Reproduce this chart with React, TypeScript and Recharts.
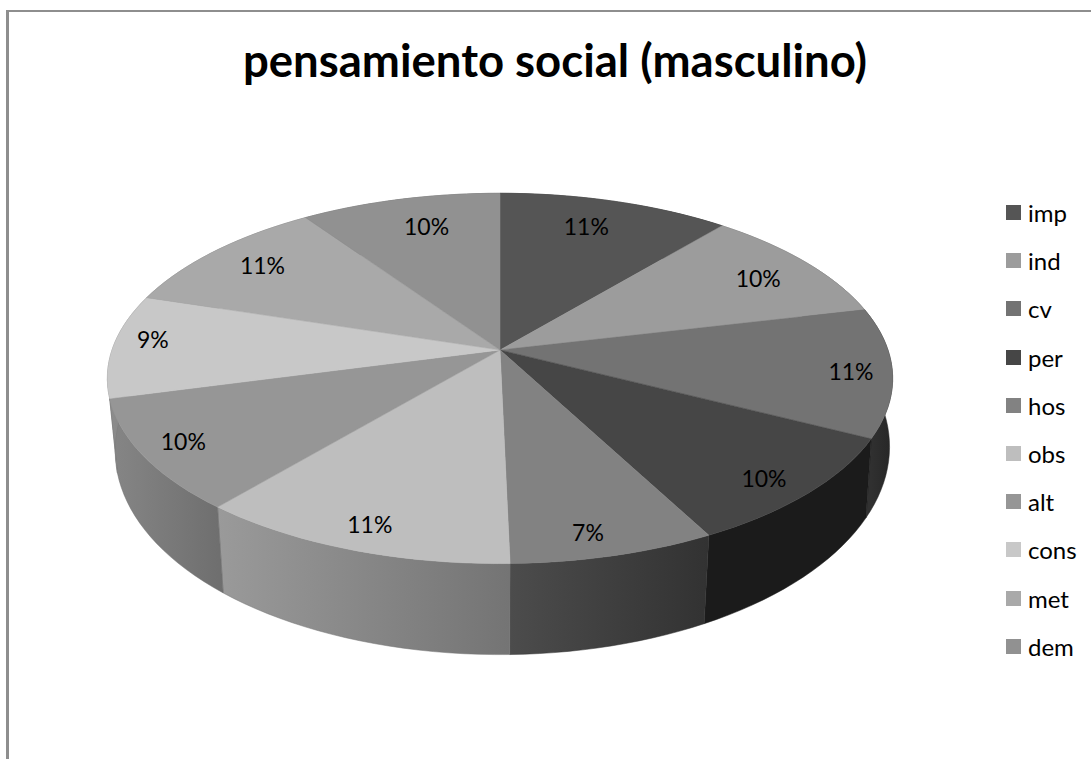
import { Legend, Pie, PieChart } from "recharts";

const names = ["imp", "ind", "cv", "per", "hos", "obs", "alt", "cons", "met", "dem"];
const values = [11.05, 10.25, 11.25, 9.75, 7.35, 11.45, 9.75, 9.05, 10.55, 9.55];
const topColors = ["#555555", "#9c9c9c", "#737373", "#464646", "#828282", "#bebebe", "#969696", "#c8c8c8", "#a9a9a9", "#919191"];
const wallLeft = ["#3a3a3a", "#707070", "#333333", "#1b1b1b", "#4c4c4c", "#9a9a9a", "#868686", "#8e8e8e", "#808080", "#707070"];
const wallRight = ["#2a2a2a", "#505050", "#262626", "#1b1b1b", "#323232", "#747474", "#6e6e6e", "#7a7a7a", "#6c6c6c", "#5c5c5c"];

// hand nudges from the projected slice midpoint, the way the original places its labels
const labelNudge = [
  [-3, -9], [25, -5], [58, 4], [39, 24], [6, 34],
  [-22, 30], [-55, 13], [-57, -8], [-19, -9], [4, -7],
];

const table = names.map((name, i) => ({ name, value: values[i], fill: topColors[i] }));

const RAD = Math.PI / 180;
const TILT = 0.466; // vertical squash of the disc
const PERSP = 0.1536; // front of the disc is nearer than the back
const FONT = "Lato, Carlito, sans-serif";

function project(cx: number, cy: number, radius: number, angle: number, frac = 1) {
  const u = Math.cos(angle * RAD) * frac;
  const v = -Math.sin(angle * RAD) * frac;
  const w = 1 / (1 - PERSP * v);
  return { x: cx + radius * u * w, y: cy + radius * TILT * v * w, v };
}

function arcPoints(startAngle: number, endAngle: number) {
  const steps = Math.max(2, Math.ceil(Math.abs(endAngle - startAngle) / 2));
  const out: number[] = [];
  for (let i = 0; i <= steps; i++) out.push(startAngle + ((endAngle - startAngle) * i) / steps);
  return out;
}

function TopFace(props: any) {
  const { cx, cy, outerRadius, startAngle, endAngle, fill } = props;
  const pts = arcPoints(startAngle, endAngle).map((a) => project(cx, cy, outerRadius, a));
  const d = `M${cx},${cy}` + pts.map((p) => `L${p.x},${p.y}`).join("") + "Z";
  return <path d={d} fill={fill} stroke={fill} strokeWidth={0.5} />;
}

function Wall(props: any) {
  const { cx, cy, outerRadius, startAngle, endAngle, name } = props;
  const idx = names.indexOf(name);
  const upper = arcPoints(startAngle, endAngle).map((a) => project(cx, cy, outerRadius, a));
  // the view is slightly off centre: the right side of the base sits further out than the left
  const lower = upper
    .map((p) => ({
      x: cx + (p.x - cx) * (p.x > cx ? 0.995 - 0.02 * p.v : 0.98),
      y: p.y + 69 + 22 * p.v,
    }))
    .reverse();
  const d = "M" + [...upper, ...lower].map((p) => `${p.x},${p.y}`).join("L") + "Z";
  return <path d={d} fill={`url(#wall-${idx})`} stroke={wallRight[idx]} strokeWidth={0.5} />;
}

function sliceLabel(props: any) {
  const { cx, cy, outerRadius, midAngle, percent, name } = props;
  const idx = names.indexOf(name);
  const p = project(cx, cy, outerRadius, midAngle, 0.75);
  return (
    <text
      x={p.x + labelNudge[idx][0]}
      y={p.y + labelNudge[idx][1]}
      textAnchor="middle"
      dominantBaseline="central"
      fontFamily={FONT}
      fontSize={23}
      fill="#000"
    >
      {`${Math.round(percent * 100)}%`}
    </text>
  );
}

function LegendList({ payload }: any) {
  // both pies report to the legend, the wall pie is only a backdrop
  const items = (payload ?? []).filter((it: any, i: number, all: any[]) => all.findIndex((o) => o.value === it.value) === i);
  return (
    <div>
      {names
        .map((n) => items.find((it: any) => it.value === n))
        .filter(Boolean)
        .map((item: any) => (
          <div
            key={item.value}
            style={{ display: "flex", alignItems: "center", height: 48.2, fontFamily: FONT, fontSize: 24, color: "#000" }}
          >
            <span style={{ width: 15, height: 15, background: item.color, marginRight: 7, flex: "none" }} />
            {item.value}
          </div>
        ))}
    </div>
  );
}

export default function App() {
  return (
    <div style={{ position: "absolute", left: 0, top: 0, width: 1091, height: 759, overflow: "hidden", background: "#fff" }}>
      <div
        style={{
          position: "absolute",
          left: 6,
          top: 10,
          right: 0,
          bottom: 0,
          borderLeft: "3px solid #8e8e8e",
          borderTop: "2px solid #8e8e8e",
        }}
      />
      <PieChart width={1091} height={759} margin={{ top: 0, right: 0, bottom: 0, left: 0 }} style={{ position: "absolute", left: 0, top: 0 }}>
        <defs>
          {names.map((n, i) => (
            <linearGradient key={n} id={`wall-${i}`} x1="0" y1="0" x2="1" y2="0">
              <stop offset="0%" stopColor={wallLeft[i]} />
              <stop offset="100%" stopColor={wallRight[i]} />
            </linearGradient>
          ))}
        </defs>
        <text x={555} y={77} textAnchor="middle" fontFamily={FONT} fontSize={45.5} fontWeight={700} fill="#000">
          pensamiento social (masculino)
        </text>
        <Pie
          data={table}
          dataKey="value"
          nameKey="name"
          cx={500}
          cy={350}
          outerRadius={388}
          startAngle={90}
          endAngle={-270}
          paddingAngle={0}
          stroke="none"
          legendType="none"
          shape={Wall}
          isAnimationActive={false}
        />
        <Pie
          data={table}
          dataKey="value"
          nameKey="name"
          cx={500}
          cy={350}
          outerRadius={388}
          startAngle={90}
          endAngle={-270}
          paddingAngle={0}
          stroke="none"
          shape={TopFace}
          label={sliceLabel}
          labelLine={false}
          isAnimationActive={false}
        />
        <Legend
          layout="vertical"
          align="right"
          verticalAlign="top"
          content={LegendList}
          wrapperStyle={{ left: 1006, top: 188.5, width: 85 }}
        />
      </PieChart>
    </div>
  );
}
